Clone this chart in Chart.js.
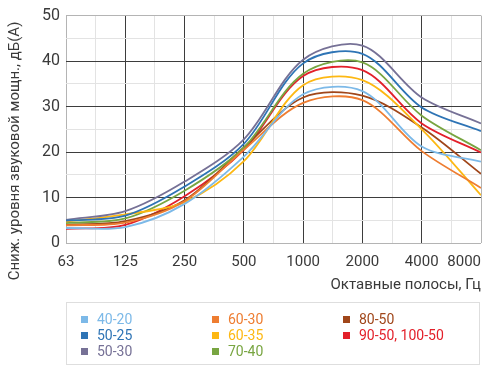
<!DOCTYPE html>
<html>
<head>
<meta charset="utf-8">
<script src="https://cdn.jsdelivr.net/npm/chart.js@4/dist/chart.umd.min.js"></script>
<style>
  html, body { margin:0; padding:0; background:#fff; }
  #wrap { position:relative; width:497px; height:379px; }
  #c { position:absolute; left:0; top:0; }
  #legend { position:absolute; left:66px; top:302px; width:414px; height:63px; border:1px solid #dedede; box-sizing:border-box; font-family: Roboto, "Noto Sans", sans-serif; font-size:14px; }
  .item { position:absolute; height:16px; line-height:16px; white-space:nowrap; }
  .sq { display:inline-block; width:7px; height:7px; margin-right:9px; vertical-align:1px; }
</style>
</head>
<body>
<div id="wrap">
  <canvas id="c" width="497" height="379"></canvas>
  <div id="legend"></div>
</div>
<script>
const categories = ['63','125','250','500','1000','2000','4000','8000'];
const seriesNames = ['40-20','50-25','50-30','60-30','60-35','70-40','80-50','90-50, 100-50'];
const seriesColors = ['#7cb9e8','#2e74b5','#767196','#ee7d31','#fdb813','#78a541','#a0461a','#e3202a'];
const s40_20 = [3.3, 3.5, 8.6, 19.0, 32.7, 33.4, 21.2, 17.9];
const s50_25 = [4.9, 6.0, 12.4, 21.8, 39.5, 41.6, 29.8, 24.6];
const s50_30 = [5.1, 7.0, 13.5, 22.8, 40.3, 43.4, 32.0, 26.3];
const s60_30 = [3.9, 4.5, 9.2, 20.5, 30.8, 31.4, 20.2, 12.1];
const s60_35 = [4.7, 6.3, 9.0, 18.0, 34.7, 35.8, 25.0, 10.5];
const s70_40 = [4.4, 5.4, 11.5, 21.0, 37.2, 39.7, 28.0, 20.4];
const s80_50 = [4.0, 4.8, 9.4, 21.0, 32.0, 32.4, 25.4, 15.2];
const s90_50 = [3.1, 4.0, 10.3, 20.5, 36.7, 38.0, 26.3, 19.9];
const seriesValues = [s40_20, s50_25, s50_30, s60_30, s60_35, s70_40, s80_50, s90_50];
const yTitle = 'Сниж. уровня звуковой мощн., дБ(А)';
const xTitle = 'Октавные полосы, Гц';

const FONT = 'Roboto, "Noto Sans", sans-serif';
const TEXT = '#3a3a3a';

function gridColor(ctx, max, major) {
  const v = ctx.tick.value;
  if (v === 0 || v === max) return '#b4b4b4';
  return (Math.abs(v / major - Math.round(v / major)) < 1e-6) ? '#3d3d3d' : '#e3e3e3';
}

const labelsPlugin = {
  id: 'labelsPlugin',
  afterDraw(chart) {
    const ctx = chart.ctx, xs = chart.scales.x, area = chart.chartArea;
    ctx.save();
    ctx.fillStyle = TEXT;
    ctx.font = '15px ' + FONT;
    ctx.textBaseline = 'middle';
    categories.forEach((c, i) => {
      const px = xs.getPixelForValue(i);
      const w = ctx.measureText(c).width;
      let x = px;
      if (px + w / 2 > area.right) { ctx.textAlign = 'right'; x = area.right; }
      else ctx.textAlign = 'center';
      ctx.fillText(c, x, 262);
    });
    ctx.textAlign = 'right';
    ctx.fillText(xTitle, area.right, 285);
    ctx.translate(15, 151);
    ctx.rotate(-Math.PI / 2);
    ctx.textAlign = 'center';
    ctx.fillText(yTitle, 0, 0);
    ctx.restore();
  }
};

new Chart(document.getElementById('c'), {
  type: 'line',
  data: {
    datasets: seriesValues.map((vals, k) => ({
      label: seriesNames[k],
      data: vals.map((v, i) => ({ x: i, y: v })),
      borderColor: seriesColors[k],
      backgroundColor: seriesColors[k],
      borderWidth: 1.8,
      pointRadius: 0,
      tension: 0.32,
      fill: false
    }))
  },
  options: {
    responsive: false,
    animation: false,
    layout: { padding: { left: 0, right: 16, top: 13, bottom: 96 } },
    plugins: { legend: { display: false }, tooltip: { enabled: false } },
    scales: {
      x: {
        type: 'linear', min: 0, max: 7,
        afterFit(s) { s.height = 40; },
        ticks: { stepSize: 0.5, display: false },
        grid: { color: (c) => gridColor(c, 7, 1), drawTicks: false, lineWidth: 1 },
        border: { display: false }
      },
      y: {
        min: 0, max: 50,
        afterFit(s) { s.width = 66; },
        ticks: {
          stepSize: 5, padding: 6, color: TEXT,
          font: { family: FONT, size: 16 },
          callback: (v) => (v % 10 === 0 ? String(v) : '')
        },
        grid: { color: (c) => gridColor(c, 50, 10), drawTicks: false, lineWidth: 1 },
        border: { display: false }
      }
    }
  },
  plugins: [labelsPlugin]
});

// legend (column-major, 3 rows)
const legend = document.getElementById('legend');
const colX = [14, 145, 276];
const rowY = [8, 24, 40];
seriesNames.forEach((n, k) => {
  const col = Math.floor(k / 3), row = k % 3;
  const d = document.createElement('div');
  d.className = 'item';
  d.style.left = colX[col] + 'px';
  d.style.top = rowY[row] + 'px';
  d.style.color = seriesColors[k];
  d.innerHTML = '<span class="sq" style="background:' + seriesColors[k] + '"></span>' + n;
  legend.appendChild(d);
});
</script>
</body>
</html>
